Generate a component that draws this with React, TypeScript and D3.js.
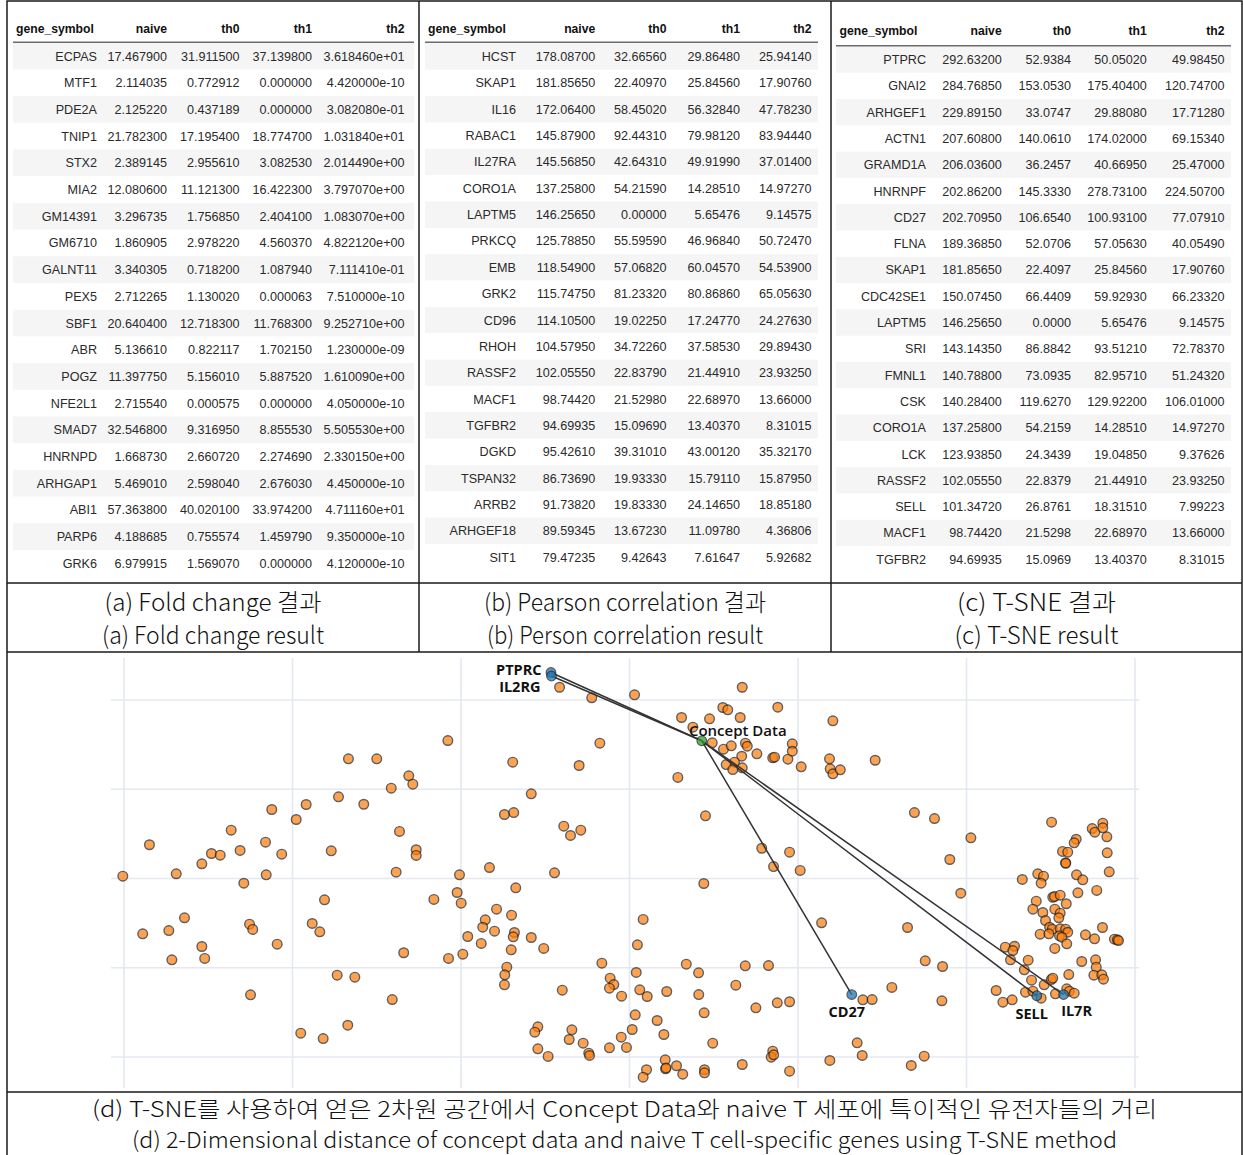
import React from "react";
import * as d3 from "d3";

// ---------- Table data ----------
const foldGenes = ["ECPAS","MTF1","PDE2A","TNIP1","STX2","MIA2","GM14391","GM6710","GALNT11","PEX5","SBF1","ABR","POGZ","NFE2L1","SMAD7","HNRNPD","ARHGAP1","ABI1","PARP6","GRK6"];
const foldNaive = ["17.467900","2.114035","2.125220","21.782300","2.389145","12.080600","3.296735","1.860905","3.340305","2.712265","20.640400","5.136610","11.397750","2.715540","32.546800","1.668730","5.469010","57.363800","4.188685","6.979915"];
const foldTh0 = ["31.911500","0.772912","0.437189","17.195400","2.955610","11.121300","1.756850","2.978220","0.718200","1.130020","12.718300","0.822117","5.156010","0.000575","9.316950","2.660720","2.598040","40.020100","0.755574","1.569070"];
const foldTh1 = ["37.139800","0.000000","0.000000","18.774700","3.082530","16.422300","2.404100","4.560370","1.087940","0.000063","11.768300","1.702150","5.887520","0.000000","8.855530","2.274690","2.676030","33.974200","1.459790","0.000000"];
const foldTh2 = ["3.618460e+01","4.420000e-10","3.082080e-01","1.031840e+01","2.014490e+00","3.797070e+00","1.083070e+00","4.822120e+00","7.111410e-01","7.510000e-10","9.252710e+00","1.230000e-09","1.610090e+00","4.050000e-10","5.505530e+00","2.330150e+00","4.450000e-10","4.711160e+01","9.350000e-10","4.120000e-10"];

const pearsonGenes = ["HCST","SKAP1","IL16","RABAC1","IL27RA","CORO1A","LAPTM5","PRKCQ","EMB","GRK2","CD96","RHOH","RASSF2","MACF1","TGFBR2","DGKD","TSPAN32","ARRB2","ARHGEF18","SIT1"];
const pearsonNaive = ["178.08700","181.85650","172.06400","145.87900","145.56850","137.25800","146.25650","125.78850","118.54900","115.74750","114.10500","104.57950","102.05550","98.74420","94.69935","95.42610","86.73690","91.73820","89.59345","79.47235"];
const pearsonTh0 = ["32.66560","22.40970","58.45020","92.44310","42.64310","54.21590","0.00000","55.59590","57.06820","81.23320","19.02250","34.72260","22.83790","21.52980","15.09690","39.31010","19.93330","19.83330","13.67230","9.42643"];
const pearsonTh1 = ["29.86480","25.84560","56.32840","79.98120","49.91990","14.28510","5.65476","46.96840","60.04570","80.86860","17.24770","37.58530","21.44910","22.68970","13.40370","43.00120","15.79110","24.14650","11.09780","7.61647"];
const pearsonTh2 = ["25.94140","17.90760","47.78230","83.94440","37.01400","14.97270","9.14575","50.72470","54.53900","65.05630","24.27630","29.89430","23.93250","13.66000","8.31015","35.32170","15.87950","18.85180","4.36806","5.92682"];

const tsneGenes = ["PTPRC","GNAI2","ARHGEF1","ACTN1","GRAMD1A","HNRNPF","CD27","FLNA","SKAP1","CDC42SE1","LAPTM5","SRI","FMNL1","CSK","CORO1A","LCK","RASSF2","SELL","MACF1","TGFBR2"];
const tsneNaive = ["292.63200","284.76850","229.89150","207.60800","206.03600","202.86200","202.70950","189.36850","181.85650","150.07450","146.25650","143.14350","140.78800","140.28400","137.25800","123.93850","102.05550","101.34720","98.74420","94.69935"];
const tsneTh0 = ["52.9384","153.0530","33.0747","140.0610","36.2457","145.3330","106.6540","52.0706","22.4097","66.4409","0.0000","86.8842","73.0935","119.6270","54.2159","24.3439","22.8379","26.8761","21.5298","15.0969"];
const tsneTh1 = ["50.05020","175.40400","29.88080","174.02000","40.66950","278.73100","100.93100","57.05630","25.84560","59.92930","5.65476","93.51210","82.95710","129.92200","14.28510","19.04850","21.44910","18.31510","22.68970","13.40370"];
const tsneTh2 = ["49.98450","120.74700","17.71280","69.15340","25.47000","224.50700","77.07910","40.05490","17.90760","66.23320","9.14575","72.78370","51.24320","106.01000","14.97270","9.37626","23.93250","7.99223","13.66000","8.31015"];

const headers = ["gene_symbol", "naive", "th0", "th1", "th2"];

// ---------- Scatter data (t-SNE coordinates) ----------
const xTicks = [-30, -20, -10, 0, 10, 20, 30];
const yTicks = [-20, -10, 0, 10, 20];

const geneXY: [number, number][] = [
  [-10.78,15.46],[-16.68,13.41],[-15.00,13.41],[-13.10,11.51],[-12.86,10.57],[-14.14,10.12],[-17.27,9.15],[-15.77,8.32],[-19.19,8.29],[-21.23,7.73],
  [-19.78,6.61],[-23.64,5.41],[-13.65,5.27],[-28.49,3.78],[-21.60,4.07],[-24.81,2.80],[-24.29,2.61],[-23.11,3.14],[-20.64,2.72],[-17.70,3.10],
  [-12.66,3.22],[-12.66,2.58],[-25.38,1.65],[-26.90,0.53],[-13.85,0.71],[-10.09,0.41],[-8.31,1.23],[-30.07,0.26],[-21.56,0.41],[-22.89,-0.53],
  [-7.42,7.17],[-6.87,7.39],[-18.10,-2.39],[-11.61,-2.35],[-10.23,-1.57],[-9.99,-2.77],[-7.89,-3.44],[-8.56,-4.63],[-8.71,-5.46],[-8.01,-5.90],
  [-9.60,-6.50],[-8.80,-7.28],[-9.89,-8.48],[-10.74,-8.96],[-13.40,-8.32],[-26.41,-4.40],[-28.89,-6.20],[-27.34,-5.83],[-25.38,-7.62],[-27.16,-9.11],
  [-25.21,-8.96],[-22.55,-5.12],[-22.36,-5.71],[-20.91,-7.36],[-18.83,-5.04],[-18.38,-5.97],[-17.35,-10.83],[-16.30,-11.06],[-22.49,-13.03],[-14.08,-13.56],
  [-16.72,-16.44],[-19.51,-17.33],[-18.18,-17.93],[-4.45,0.64],[8.55,1.34],[10.13,0.90],[4.41,-0.56],[-6.75,-1.04],[-7.00,-4.11],[-6.83,-6.05],
  [-6.90,-6.53],[-5.83,-6.61],[-5.09,-7.84],[-7.02,-7.99],[-7.28,-9.94],[-7.40,-10.79],[-7.42,-11.91],[-3.99,-12.51],[0.81,-4.59],[0.47,-7.43],
  [-1.64,-9.49],[0.40,-10.53],[-1.15,-11.17],[-0.93,-11.88],[-1.19,-12.29],[-0.47,-13.19],[0.61,-12.47],[1.05,-13.22],[2.21,-12.66],[3.37,-9.60],
  [4.10,-10.57],[4.11,-13.00],[4.43,-15.05],[11.40,-4.96],[6.87,-9.78],[8.25,-9.75],[6.31,-11.95],[7.50,-14.49],[8.77,-13.93],[9.50,-13.81],
  [0.34,-15.27],[1.64,-15.91],[2.04,-17.48],[0.16,-16.92],[-0.49,-17.78],[-0.18,-18.93],[-1.19,-18.97],[4.94,-18.45],[-5.44,-16.62],[-5.62,-17.22],
  [-3.42,-16.95],[-3.58,-18.04],[-2.75,-18.45],[-5.44,-19.08],[-4.83,-19.94],[-2.42,-19.57],[-2.37,-19.83],[2.12,-20.31],[2.14,-21.32],[2.17,-21.23],
  [2.79,-20.98],[3.16,-21.93],[1.01,-21.43],[0.81,-22.26],[4.45,-21.43],[4.45,-21.77],[6.69,-20.84],[8.50,-19.35],[8.41,-20.02],[8.56,-19.75],
  [9.50,-21.59],[11.89,-20.39],[-4.15,21.43],[-2.24,20.25],[0.30,20.58],[6.69,21.43],[5.54,19.16],[5.83,18.90],[8.80,19.19],[3.09,18.04],
  [4.75,17.89],[6.57,18.04],[12.07,17.67],[3.76,16.95],[4.91,15.20],[5.58,14.49],[6.04,14.87],[6.88,15.16],[6.99,14.82],[6.66,13.70],
  [6.23,13.03],[5.74,12.77],[6.13,12.21],[6.69,12.40],[7.56,13.97],[8.50,13.52],[8.61,13.59],[9.40,13.37],[9.66,15.09],[9.66,14.26],
  [10.19,12.51],[11.87,13.41],[11.91,12.29],[12.07,11.73],[2.87,11.32],[-1.76,15.16],[-6.93,13.03],[-2.99,12.66],[-5.83,9.49],[-3.90,5.86],
  [-3.50,4.82],[-2.89,5.41],[4.51,7.02],[7.85,3.39],[9.50,2.95],[12.51,12.18],[14.58,13.25],[16.91,7.39],[18.10,6.72],[20.26,4.56],
  [19.01,2.13],[25.05,6.31],[26.51,4.40],[26.39,4.00],[27.46,5.60],[27.62,5.19],[28.09,6.20],[28.09,5.68],[28.33,4.67],[25.70,3.03],
  [26.01,2.95],[25.88,1.76],[25.89,1.71],[28.35,2.88],[28.47,0.75],[23.31,-0.11],[24.23,0.53],[24.57,0.26],[24.43,-0.53],[26.53,0.41],
  [26.90,-0.15],[19.66,-1.65],[26.61,-1.60],[27.73,-1.34],[25.12,-2.10],[25.22,-2.02],[25.56,-1.87],[24.14,-2.54],[25.92,-2.83],[23.94,-3.44],
  [24.53,-3.81],[25.24,-3.44],[25.56,-3.89],[25.48,-4.40],[24.69,-4.71],[24.93,-5.46],[25.09,-5.68],[25.56,-5.64],[25.88,-5.68],[26.01,-6.02],
  [24.37,-6.24],[24.89,-6.20],[25.52,-6.42],[25.66,-6.58],[25.95,-7.32],[25.24,-7.84],[27.06,-6.31],[27.60,-6.76],[28.07,-5.49],[28.78,-6.80],
  [28.95,-6.87],[29.02,-6.95],[16.50,-5.49],[22.30,-7.70],[22.85,-7.59],[22.75,-8.07],[22.61,-9.11],[23.66,-9.15],[23.43,-10.23],[23.86,-11.39],
  [24.61,-11.91],[25.03,-11.32],[25.12,-11.17],[26.07,-10.76],[26.84,-9.30],[27.66,-9.11],[27.70,-9.94],[27.56,-10.83],[28.03,-10.79],[28.13,-11.28],
  [17.55,-9.22],[18.58,-9.86],[15.57,-12.21],[18.54,-13.70],[13.85,-13.59],[14.40,-13.56],[21.76,-12.55],[22.16,-13.86],[22.71,-13.59],[23.50,-12.74],
  [23.94,-12.63],[24.43,-13.41],[25.28,-12.92],[25.95,-12.36],[26.11,-12.63],[26.39,-12.85],[13.51,-18.41],[13.81,-19.83],[16.72,-20.95],[17.49,-19.91],
];

const conceptName = "Concept Data";
const conceptXY: [number, number] = [4.29, 15.43];

const markerNames = ["PTPRC", "IL2RG", "CD27", "SELL", "IL7R"];
const markerXY: [number, number][] = [
  [-4.66, 23.08],
  [-4.63, 22.69],
  [13.19, -13.0],
  [24.17, -13.14],
  [25.76, -13.0],
];

// ---------- Captions ----------
const captions = [
  { lines: ["(a) Fold change 결과", "(a) Fold change result"], widths: [217, 222] },
  { lines: ["(b) Pearson correlation 결과", "(b) Person correlation result"], widths: [282, 276] },
  { lines: ["(c) T-SNE 결과", "(c) T-SNE result"], widths: [159, 164] },
];
const captionD = [
  "(d) T-SNE를 사용하여 얻은 2차원 공간에서 Concept Data와 naive T 세포에 특이적인 유전자들의 거리",
  "(d) 2-Dimensional distance of concept data and naive T cell-specific genes using T-SNE method",
];
const captionDWidths = [1065, 985];

// ---------- Layout / style ----------
const W = 1243;
const H = 1155;
const BORDER_L = 7;
const BORDER_R = 1242;
const DIV1 = 419;
const DIV2 = 831;
const LINE_TABLE = 583;
const LINE_CAP = 652;
const LINE_PLOT = 1092;

const TABLE_FONT = "'Liberation Sans', Arial, Helvetica, sans-serif";
const CAP_FONT = "'Noto Sans CJK KR', 'Noto Sans', sans-serif";
const LABEL_FONT = "'Open Sans', 'Liberation Sans', sans-serif";

type TableSpec = {
  cols: string[][];
  headerLeft: number;
  headerBase: number;
  lineY: number;
  row0: number;
  pitch: number;
  sx0: number;
  sx1: number;
  colRight: number[];
};

function DataTable({ spec }: { spec: TableSpec }) {
  const { cols, headerLeft, headerBase, lineY, row0, pitch, sx0, sx1, colRight } = spec;
  const n = cols[0].length;
  const rowIdx = d3.range(n);
  return (
    <g>
      {rowIdx.filter((i) => i % 2 === 0).map((i) => (
        <rect key={"s" + i} x={sx0} y={row0 + i * pitch - pitch / 2} width={sx1 - sx0} height={pitch} fill="#f5f5f5" />
      ))}
      <line x1={sx0} x2={sx1} y1={lineY} y2={lineY} stroke="#6b6b6b" strokeWidth={1.4} />
      {headers.map((h, j) => (
        <text
          key={"h" + j}
          x={j === 0 ? headerLeft : colRight[j]}
          y={headerBase}
          textAnchor={j === 0 ? "start" : "end"}
          fontFamily={TABLE_FONT}
          fontWeight="bold"
          fontSize={12.2}
          fill="#111"
        >
          {h}
        </text>
      ))}
      {rowIdx.map((i) =>
        cols.map((col, j) => (
          <text
            key={"c" + i + "_" + j}
            x={colRight[j]}
            y={row0 + i * pitch + 4.5}
            textAnchor="end"
            fontFamily={TABLE_FONT}
            fontSize={12.6}
            fill="#2a2a2a"
          >
            {col[i]}
          </text>
        ))
      )}
    </g>
  );
}

export default function App() {
  const x = d3.scaleLinear().domain([-30, 30]).range([124, 1135]);
  const y = d3.scaleLinear().domain([-20, 20]).range([1057, 700]);

  const GRID_L = 111, GRID_R = 1139, GRID_T = 658, GRID_B = 1088;

  const tables: TableSpec[] = [
    {
      cols: [foldGenes, foldNaive, foldTh0, foldTh1, foldTh2],
      headerLeft: 16, headerBase: 32.5, lineY: 42.3, row0: 56, pitch: 26.7,
      sx0: 13, sx1: 414, colRight: [97, 167, 239.5, 312, 404.5],
    },
    {
      cols: [pearsonGenes, pearsonNaive, pearsonTh0, pearsonTh1, pearsonTh2],
      headerLeft: 428, headerBase: 32.8, lineY: 42.3, row0: 56.5, pitch: 26.35,
      sx0: 425, sx1: 818, colRight: [516, 595.3, 666.5, 740, 811.5],
    },
    {
      cols: [tsneGenes, tsneNaive, tsneTh0, tsneTh1, tsneTh2],
      headerLeft: 839.5, headerBase: 35.3, lineY: 45.7, row0: 59.5, pitch: 26.3,
      sx0: 836, sx1: 1231, colRight: [926, 1001.7, 1071, 1146.7, 1224.5],
    },
  ];

  const capCenters = [(BORDER_L + DIV1) / 2, (DIV1 + DIV2) / 2, (DIV2 + BORDER_R) / 2];
  const capBase = [611, 644];

  const [cx, cy] = conceptXY;
  const labelOffsets: { dx: number; dy: number; anchor: string }[] = [
    { dx: -9.5, dy: 2, anchor: "end" },
    { dx: -11, dy: 16.5, anchor: "end" },
    { dx: -5, dy: 22.5, anchor: "middle" },
    { dx: -5, dy: 23.5, anchor: "middle" },
    { dx: 13, dy: 21.5, anchor: "middle" },
  ];

  return (
    <svg
      width={W}
      height={H}
      viewBox={`0 0 ${W} ${H}`}
      style={{ position: "absolute", left: 0, top: 0, background: "#fff" }}
    >
      <rect x={0} y={0} width={W} height={H} fill="#fff" />

      {/* tables */}
      {tables.map((t, i) => (
        <DataTable key={i} spec={t} />
      ))}

      {/* captions a-c */}
      {captions.map((c, i) =>
        c.lines.map((ln, k) => (
          <text
            key={"cap" + i + k}
            x={capCenters[i]}
            y={capBase[k]}
            textAnchor="middle"
            fontFamily={CAP_FONT}
            fontSize={24}
            fontWeight={300}
            fill="#111"
            textLength={c.widths[k]}
            lengthAdjust="spacingAndGlyphs"
          >
            {ln}
          </text>
        ))
      )}

      {/* scatter grid */}
      <g>
        {yTicks.map((t) => (
          <line key={"gy" + t} x1={GRID_L} x2={GRID_R} y1={y(t)} y2={y(t)} stroke="#e4e8f0" strokeWidth={1.6} />
        ))}
        {xTicks.map((t) => (
          <line key={"gx" + t} x1={x(t)} x2={x(t)} y1={GRID_T} y2={GRID_B} stroke="#e4e8f0" strokeWidth={1.6} />
        ))}
      </g>

      {/* background genes */}
      <g>
        {geneXY.map((p, i) => (
          <circle
            key={"g" + i}
            cx={x(p[0])}
            cy={y(p[1])}
            r={4.8}
            fill="#ff7f0e"
            stroke="#222"
            strokeWidth={1.4}
            opacity={0.72}
          />
        ))}
      </g>

      {/* distance lines */}
      <g>
        {markerXY.map((p, i) => (
          <line
            key={"l" + i}
            x1={x(cx)}
            y1={y(cy)}
            x2={x(p[0])}
            y2={y(p[1])}
            stroke="#333"
            strokeWidth={1.5}
          />
        ))}
      </g>

      {/* highlighted points */}
      <g>
        {markerXY.map((p, i) => (
          <circle key={"m" + i} cx={x(p[0])} cy={y(p[1])} r={4.8} fill="#1f77b4" stroke="#222" strokeWidth={1.2} opacity={0.75} />
        ))}
        <circle cx={x(cx)} cy={y(cy)} r={4.8} fill="#2ca02c" stroke="#222" strokeWidth={1.2} opacity={0.75} />
      </g>

      {/* labels */}
      <g fontFamily={LABEL_FONT} fontWeight={700} fontSize={14.5} fill="#111">
        {markerNames.map((nm, i) => (
          <text
            key={"t" + i}
            x={x(markerXY[i][0]) + labelOffsets[i].dx}
            y={y(markerXY[i][1]) + labelOffsets[i].dy}
            textAnchor={labelOffsets[i].anchor as any}
          >
            {nm}
          </text>
        ))}
        <text x={x(cx) + 36} y={y(cy) - 4.5} textAnchor="middle" fontSize={15} fontWeight={600}>
          {conceptName}
        </text>
      </g>

      {/* caption d */}
      {captionD.map((ln, k) => (
        <text
          key={"capd" + k}
          x={(BORDER_L + BORDER_R) / 2}
          y={[1117, 1148][k]}
          textAnchor="middle"
          fontFamily={CAP_FONT}
          fontSize={22}
          fontWeight={300}
          fill="#111"
          textLength={captionDWidths[k]}
          lengthAdjust="spacingAndGlyphs"
        >
          {ln}
        </text>
      ))}

      {/* frame lines */}
      <g stroke="#1a1a1a" strokeWidth={1.5} fill="none">
        <rect x={BORDER_L} y={1} width={BORDER_R - BORDER_L} height={H + 10} />
        <line x1={DIV1} x2={DIV1} y1={1} y2={LINE_CAP} />
        <line x1={DIV2} x2={DIV2} y1={1} y2={LINE_CAP} />
        <line x1={BORDER_L} x2={BORDER_R} y1={LINE_TABLE} y2={LINE_TABLE} />
        <line x1={BORDER_L} x2={BORDER_R} y1={LINE_CAP} y2={LINE_CAP} />
        <line x1={BORDER_L} x2={BORDER_R} y1={LINE_PLOT} y2={LINE_PLOT} />
      </g>
    </svg>
  );
}
